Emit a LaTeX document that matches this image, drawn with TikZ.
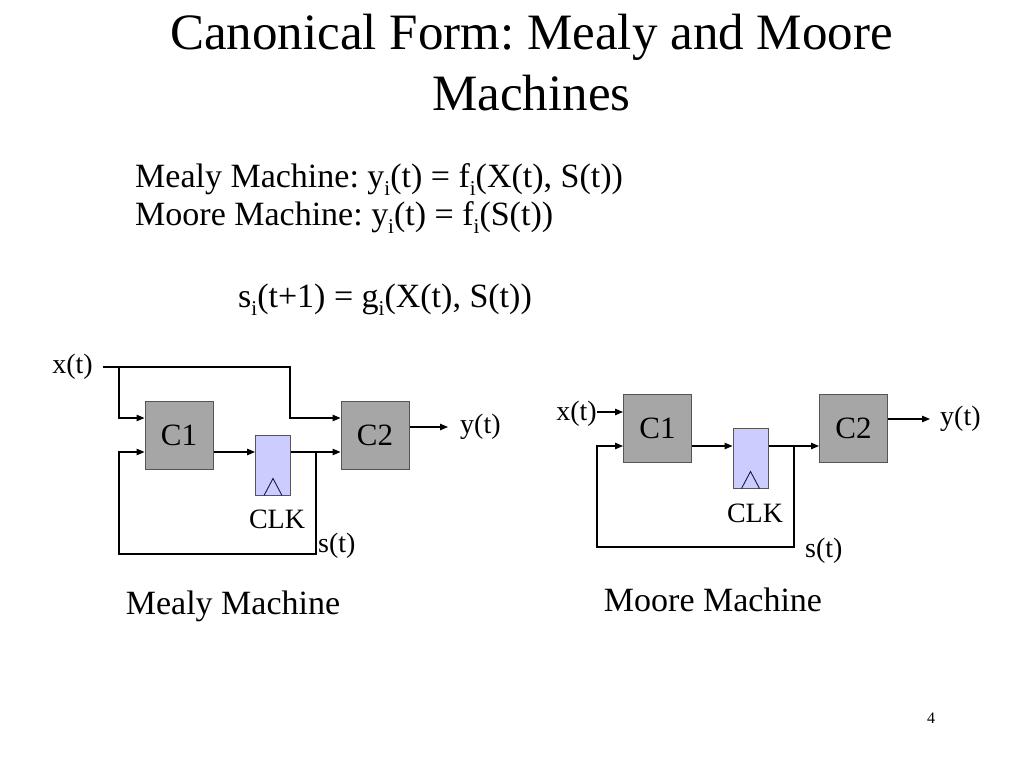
\documentclass[tikz,border=0pt]{standalone}
\usepackage{fontspec}
\setmainfont{Liberation Serif}
\usetikzlibrary{arrows.meta}
\definecolor{cgray}{HTML}{A6A6A6}
\definecolor{cedge}{HTML}{555555}
\definecolor{fffill}{HTML}{CCCCFF}
\definecolor{clkline}{HTML}{1A1A40}
\newcommand{\lowsub}[1]{\raisebox{-8pt}{\fontsize{21}{21}\selectfont #1}}
\frenchspacing
\tikzset{
  cbox/.style={draw=cedge, fill=cgray, line width=1pt, minimum width=68pt, minimum height=68pt, inner sep=0pt, font=\fontsize{31}{31}\selectfont},
  ffbox/.style={draw=cedge, fill=fffill, line width=1pt, minimum width=35pt, minimum height=60pt, inner sep=0pt},
  lbl/.style={inner sep=0pt, font=\fontsize{28}{28}\selectfont},
  eqn/.style={anchor=base west, inner sep=0pt, font=\fontsize{34}{34}\selectfont},
  ttl/.style={anchor=base, inner sep=0pt, font=\fontsize{51}{51}\selectfont},
  wire/.style={line width=1.2pt, black},
  arr/.style={wire, -{Triangle[length=8pt,width=6.5pt]}},
  clk/.style={line width=0.9pt, clkline},
}
\begin{document}
\begin{tikzpicture}[x=1pt,y=-1pt]
\useasboundingbox (0,0) rectangle (1024,768);
% title and formulas
\node[ttl] (t1) at (531.5,49) {Canonical Form: Mealy and Moore};
\node[ttl] (t2) at (531.5,110) {Machines};
\node[eqn] (e1) at (135,187) {Mealy Machine: y\lowsub{i}(t) = f\lowsub{i}(X(t), S(t))};
\node[eqn] (e2) at (135,225) {Moore Machine: y\lowsub{i}(t) = f\lowsub{i}(S(t))};
\node[eqn] (e3) at (238,307) {s\lowsub{i}(t+1) = g\lowsub{i}(X(t), S(t))};

% ---------------- Mealy ----------------
\node[cbox] (mC1) at (179,435) {C1};
\node[cbox] (mC2) at (375,435) {C2};
\node[ffbox] (mFF) at (273,465) {};
\draw[clk] ([xshift=-9pt]mFF.south) -- ([yshift=17pt]mFF.south) -- ([xshift=9pt]mFF.south);
\node[lbl, anchor=east] (mx) at (93,367) {x(t)};
\coordinate (mj0) at (103,367);
\coordinate (mj1) at (119,367);
\coordinate (mj2) at (290,367);
\coordinate (mj3) at (316,452);
\coordinate (mj4) at (119,554);
\coordinate (my) at (448,427);
\node[lbl, anchor=west] (myl) at (460,427) {y(t)};
\node[lbl] (mclk) at (277,519) {CLK};
\node[lbl, anchor=west] (ms) at (318,546) {s(t)};
\draw[wire] (mj0) -- (mj1);
\draw[arr] (mj1) |- ([yshift=17pt]mC1.west);
\draw[arr] (mj1) -- (mj2) |- ([yshift=17pt]mC2.west);
\draw[arr] ([yshift=-17pt]mC1.east) -- ([yshift=13pt]mFF.west);
\draw[arr] ([yshift=13pt]mFF.east) -- ([yshift=-17pt]mC2.west);
\draw[arr] (mj3) |- (mj4) |- ([yshift=-17pt]mC1.west);
\draw[arr] ([yshift=8pt]mC2.east) -- (my);
\node[font=\fontsize{34}{34}\selectfont, anchor=base, inner sep=0pt] (mcap) at (233,614) {Mealy Machine};

% ---------------- Moore ----------------
\node[cbox] (oC1) at (657.5,428) {C1};
\node[cbox] (oC2) at (853.5,428) {C2};
\node[ffbox] (oFF) at (750.5,458) {};
\draw[clk] ([xshift=-9pt]oFF.south) -- ([yshift=17pt]oFF.south) -- ([xshift=9pt]oFF.south);
\node[lbl, anchor=east] (ox) at (597,414) {x(t)};
\coordinate (oj3) at (794,446);
\coordinate (oj4) at (597,547);
\coordinate (oy) at (930,419);
\node[lbl, anchor=west] (oyl) at (940,419) {y(t)};
\node[lbl] (oclk) at (755,513) {CLK};
\node[lbl, anchor=west] (os) at (805,551) {s(t)};
\draw[arr] (ox.east |- 0,412) -- ([yshift=16pt]oC1.west);
\draw[arr] ([yshift=-18pt]oC1.east) -- ([yshift=12pt]oFF.west);
\draw[arr] ([yshift=12pt]oFF.east) -- ([yshift=-18pt]oC2.west);
\draw[arr] (oj3) |- (oj4) |- ([yshift=-18pt]oC1.west);
\draw[arr] ([yshift=9pt]oC2.east) -- (oy);
\node[font=\fontsize{34}{34}\selectfont, anchor=base, inner sep=0pt] (ocap) at (713,611) {Moore Machine};

\node[font=\fontsize{16}{16}\selectfont, inner sep=0pt] (pg) at (931,718) {4};
\end{tikzpicture}
\end{document}
